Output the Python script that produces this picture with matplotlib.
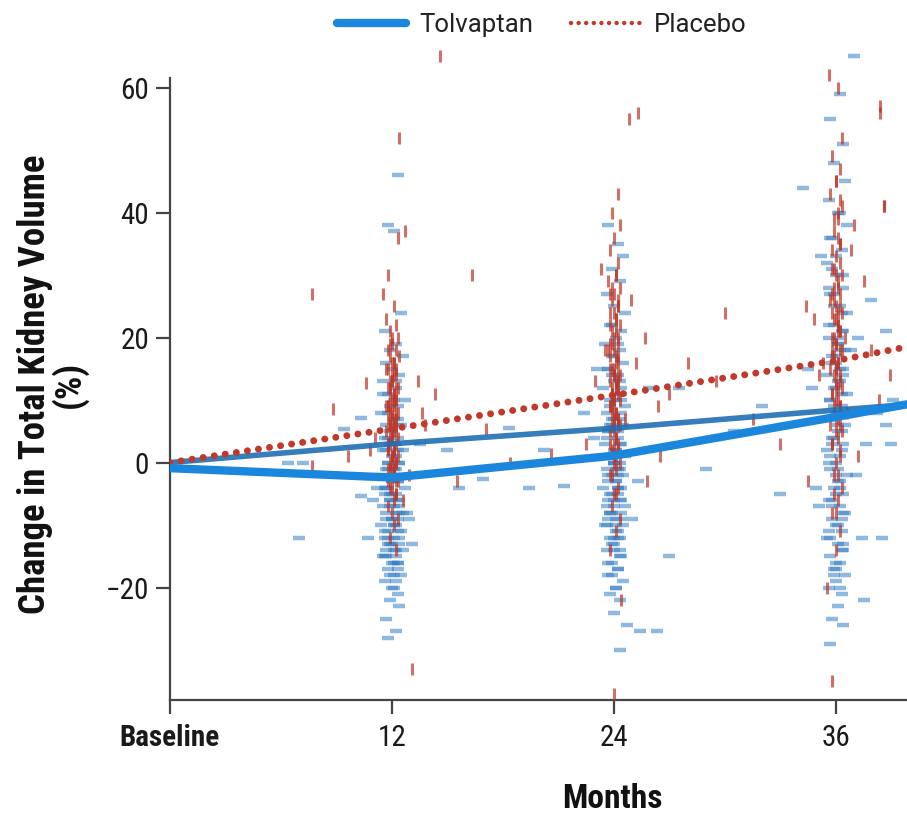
import numpy as np
import matplotlib
matplotlib.use("Agg")
import matplotlib.pyplot as plt
from matplotlib.lines import Line2D

plt.rcParams['font.family'] = ['Roboto Condensed', 'Lato', 'DejaVu Sans']

# visit months and group means
line_months = [0, 12, 24, 36, 40]
tolvaptan_mean = [-0.9, -2.4, 1.1, 7.3, 9.4]
tolvaptan_trend = [0.0, 3.0, 5.5, 8.4, 9.3]
placebo_mean = [0.0, 5.4, 10.8, 16.3, 18.6]

# individual patients, month 12
b12_y = [46, 38, 37, 24, 21, 19, 18, 17, 16, 15, 14, 13, 12, 11, 10, 9, 9, 8, 7, 6,
         6, 5, 4, 4, 3, 2, 2, 1, 0, 0, -1, -1, -2, -2, -3, -3, -4, -4, -5, -5,
         -6, -6, -7, -7, -8, -8, -9, -9, -10, -10, -11, -11, -12, -12, -13, -13, -14, -14, -15, -15,
         -16, -16, -17, -18, -19, -20, -21, -22, -23, -25, -27, -28, -2, -6, -9, -12, 3, -4, -13, -8,
         10, 8, 6, 5, 3, 2, 1, 0, -1, -2, -3, -4, -5, -6, -7, -8, -9, -10, -11, -12,
         -13, -14, -15, -16, -17, -18, -19, -20, -4, -7, -10, -13, -16, -1, -5, -9, -12, -15, -18, 4,
         7, -3, -6, -8, -11, -14, 2, 0, -2, 13]
b12_dx = [0.3, -0.2, 0.1, 0.5, -0.4, 0.2, -0.1, 0.6, -0.3, 0.0,
          0.4, -0.5, 0.2, -0.2, 0.7, -0.1, 0.3, -0.6, 0.1, -0.3,
          0.5, 0.0, -0.4, 0.3, -0.1, 0.6, -0.5, 0.2, -0.2, 0.4,
          -0.3, 0.1, 0.5, -0.6, 0.0, 0.3, -0.2, 0.7, -0.4, 0.2,
          -0.1, 0.4, -0.5, 0.1, 0.6, -0.3, 0.0, 0.3, -0.6, 0.2,
          -0.2, 0.5, -0.4, 0.1, 0.4, -0.1, 0.6, -0.3, 0.2, -0.5,
          0.0, 0.3, -0.2, 0.5, -0.4, 0.1, 0.3, -0.1, 0.4, -0.3,
          0.2, -0.2, 1.2, -1.0, 0.9, -1.3, 1.5, -0.8, 1.1, 0.8,
          0.1, -0.2, 0.3, -0.1, 0.2, -0.3, 0.0, 0.4, -0.2, 0.1,
          0.3, -0.4, 0.0, 0.2, -0.1, 0.4, -0.3, 0.1, 0.3, -0.2,
          0.0, 0.2, -0.4, 0.1, 0.3, -0.1, 0.2, 0.0, -0.3, 0.4,
          0.1, -0.2, 0.3, 0.2, -0.1, 0.0, 0.4, -0.3, 0.1, -0.2,
          0.3, 0.0, -0.1, 0.2, -0.4, 0.1, 0.3, -0.2, 0.0, 0.2]
r12_y = [52, 37, 36, 30, 25, 23, 22, 21, 20, 19, 18, 17, 16, 15, 15, 14, 13, 12, 12, 11,
         10, 10, 9, 9, 8, 8, 7, 7, 6, 6, 5, 5, 4, 4, 3, 3, 2, 2, 1, 1,
         0, 0, -1, -1, -2, -3, -4, -5, -6, -7, -8, -9, -10, -12, -14, -33, 13, 6, 2, -2,
         11, 4, 8, 27, -6,
         20, 18, 17, 16, 15, 14, 13, 12, 11, 10, 9, 8, 7, 6, 5, 4, 3, 2, 1, 0,
         -1, -2, -3, -4, -5, 14, 11, 8, 5, 2, -1, 16, 12, 9, 6, 3, 0, 10, 7, 4,
         13, 9, 1, -3, 19]
r12_dx = [0.4, 0.7, 0.3, -0.2, 0.1, -0.3, 0.2, -0.1, 0.3, 0.0,
          -0.2, 0.4, 0.1, -0.3, 0.2, 0.0, -0.1, 0.3, -0.2, 0.1,
          0.0, 0.2, -0.3, 0.1, -0.1, 0.3, 0.0, -0.2, 0.2, -0.1,
          0.1, -0.3, 0.3, 0.0, -0.1, 0.2, -0.2, 0.1, 0.0, 0.3,
          -0.1, 0.2, 0.1, -0.2, 0.0, 0.3, -0.1, 0.2, 0.1, -0.2,
          0.0, 0.3, 0.1, -0.1, 0.2, 1.1, 1.4, 1.8, -1.2, 0.9,
          2.3, -0.9, 1.6, -0.5, 0.6,
          0.0, 0.2, -0.1, 0.1, -0.2, 0.2, 0.0, -0.1, 0.1, 0.2,
          -0.2, 0.0, 0.1, -0.1, 0.2, 0.0, -0.2, 0.1, 0.0, 0.2,
          -0.1, 0.1, -0.2, 0.0, 0.2, 0.1, -0.1, 0.2, 0.0, -0.2,
          0.1, 0.0, 0.2, -0.1, 0.1, -0.2, 0.0, 0.1, 0.2, -0.1,
          0.0, -0.2, 0.1, 0.2, -0.1]

# month 24
b24_y = [38, 35, 33, 31, 29, 27, 25, 24, 22, 21, 20, 19, 18, 17, 16, 15, 14, 13, 12, 11,
         10, 10, 9, 8, 7, 7, 6, 5, 5, 4, 3, 3, 2, 1, 1, 0, 0, -1, -1, -2,
         -2, -3, -3, -4, -4, -5, -5, -6, -6, -7, -7, -8, -8, -9, -9, -10, -10, -11, -12, -12,
         -13, -14, -15, -16, -17, -18, -19, -20, -21, -22, -24, -26, -27, -30, 4, -3, 8, 12, -9, 15,
         22, 19, 17, 15, 13, 11, 9, 8, 7, 6, 5, 4, 3, 2, 1, 0, -1, -2, -3, -4,
         -5, -6, -7, -8, -9, -10, -11, -12, -13, -14, -15, -16, -17, -18, -20, 10, 6, 2, -2, -6,
         -10, -14, 14, 0, -4, -8, 12, 5, -1, -12]
b24_dx = [-0.3, 0.2, 0.5, -0.1, 0.3, -0.4, 0.0, 0.6, -0.2, 0.4,
          0.1, -0.5, 0.3, -0.1, 0.5, -0.3, 0.2, 0.0, -0.6, 0.4,
          -0.2, 0.1, 0.6, -0.4, 0.3, -0.1, 0.5, 0.0, -0.3, 0.2,
          0.4, -0.5, 0.1, -0.2, 0.6, 0.0, 0.3, -0.4, 0.2, -0.1,
          0.5, -0.3, 0.1, 0.4, -0.6, 0.2, -0.2, 0.3, 0.0, -0.4,
          0.6, -0.1, 0.4, -0.3, 0.1, 0.5, -0.5, 0.2, -0.2, 0.3,
          0.0, -0.4, 0.4, -0.1, 0.2, -0.3, 0.5, 0.1, -0.2, 0.3,
          0.0, 0.7, 1.4, 0.3, -1.1, 1.3, -1.6, 1.9, 1.0, -0.9,
          -0.1, 0.2, 0.0, -0.3, 0.3, 0.1, -0.2, 0.4, 0.0, -0.1,
          0.2, -0.4, 0.3, 0.1, -0.2, 0.0, 0.3, -0.3, 0.1, 0.2,
          -0.1, 0.4, 0.0, -0.2, 0.3, -0.4, 0.1, 0.2, -0.1, 0.0,
          0.3, -0.3, 0.2, -0.1, 0.1, 0.4, -0.2, 0.0, 0.2, -0.3,
          0.1, 0.3, -0.1, 0.0, 0.2, -0.2, 0.4, -0.3, 0.1, 0.0]
r24_y = [56, 55, 43, 40, 38, 36, 34, 32, 30, 29, 28, 27, 26, 25, 24, 23, 22, 21, 20, 19,
         18, 17, 16, 15, 14, 14, 13, 12, 12, 11, 10, 10, 9, 8, 8, 7, 6, 6, 5, 4,
         3, 2, 1, 0, -1, -2, -4, -5, -7, -9, -11, -14, -22, -37, 20, 13, 9, 16, 3, 26,
         11, 31, -3, 7, 18,
         30, 28, 26, 24, 22, 21, 20, 19, 18, 17, 16, 15, 14, 13, 12, 11, 10, 9, 8, 7,
         6, 5, 4, 3, 2, 0, -2, -5, 25, 19, 15, 12, 9, 6, 3, 23, 17, 13, 10, 7,
         1, 14, 11, 8, 27]
r24_dx = [1.3, 0.8, 0.2, -0.1, 0.3, 0.0, -0.2, 0.2, 0.1, -0.3,
          0.3, 0.0, -0.1, 0.2, -0.2, 0.1, 0.3, -0.1, 0.0, 0.2,
          -0.3, 0.1, 0.2, -0.1, 0.0, 0.3, -0.2, 0.1, 0.2, -0.1,
          0.0, 0.3, -0.2, 0.1, -0.1, 0.2, 0.0, 0.3, -0.2, 0.1,
          0.2, -0.1, 0.0, 0.3, 0.1, -0.2, 0.2, 0.0, -0.1, 0.3,
          0.1, -0.2, 0.4, 0.0, 1.7, -1.0, 2.4, 1.2, -1.5, 0.9,
          3.0, -0.7, 1.8, 0.6, -0.5,
          0.1, -0.1, 0.2, 0.0, -0.2, 0.1, 0.2, -0.1, 0.0, 0.2,
          0.1, -0.2, 0.0, 0.1, -0.1, 0.2, 0.0, -0.2, 0.1, 0.2,
          -0.1, 0.0, 0.1, -0.2, 0.2, 0.0, -0.1, 0.1, 0.2, -0.2,
          0.0, 0.1, -0.1, 0.2, 0.0, 0.1, -0.2, 0.2, -0.1, 0.0,
          0.1, 0.2, -0.1, 0.0, -0.2]

# month 36
b36_y = [65, 59, 55, 51, 48, 45, 42, 40, 38, 36, 34, 32, 30, 28, 27, 25, 24, 22, 21, 20,
         19, 18, 17, 16, 15, 14, 13, 12, 11, 10, 9, 8, 7, 6, 5, 4, 3, 2, 1, 0,
         -1, -2, -3, -4, -5, -6, -7, -8, -9, -10, -11, -12, -13, -14, -15, -16, -17, -18, -19, -20,
         -21, -23, -25, -26, -29, 20, 12, 3, -7, 26, 15, -2, 8, 33, -12, 6, 44, 18, 10, -4,
         40, 36, 33, 30, 27, 24, 22, 20, 18, 16, 14, 12, 10, 8, 6, 4, 2, 0, -2, -4,
         -6, -8, -10, -12, -14, -16, -18, -20, 28, 19, 11, 3, -5, -13, 25, 15, 7, -1, -9, -17,
         31, 21, 9, -3, -11, 17, 5, -7, 13, 1]
b36_dx = [1.0, 0.2, -0.3, 0.4, -0.1, 0.5, -0.4, 0.1, 0.6, -0.2,
          0.3, -0.5, 0.0, 0.4, -0.3, 0.2, 0.6, -0.1, 0.3, -0.4,
          0.1, 0.5, -0.2, 0.0, 0.4, -0.5, 0.2, -0.1, 0.6, -0.3,
          0.3, 0.0, -0.4, 0.5, 0.1, -0.2, 0.4, -0.5, 0.2, 0.0,
          -0.3, 0.6, 0.1, -0.1, 0.4, -0.4, 0.2, 0.5, -0.2, 0.0,
          0.3, -0.5, 0.1, 0.4, -0.3, 0.2, -0.1, 0.5, 0.0, -0.4,
          0.3, 0.1, -0.2, 0.4, -0.3, 1.2, -1.3, 1.6, -0.9, 1.9,
          -1.5, 1.1, 2.2, -0.8, 1.4, 2.7, -1.8, 0.8, 3.1, -1.1,
          0.2, -0.3, 0.0, 0.4, -0.1, 0.3, -0.4, 0.1, 0.2, -0.2,
          0.4, 0.0, -0.3, 0.2, 0.1, -0.1, 0.3, -0.4, 0.0, 0.2,
          -0.2, 0.4, 0.1, -0.3, 0.3, 0.0, -0.1, 0.2, -0.4, 0.1,
          0.3, -0.2, 0.0, 0.4, -0.1, 0.2, -0.3, 0.1, 0.3, 0.0,
          -0.2, 0.4, -0.1, 0.2, -0.4, 0.0, 0.3, -0.2, 0.1, -0.3]
r36_y = [62, 60, 56, 52, 49, 47, 45, 43, 41, 39, 37, 35, 33, 31, 30, 29, 28, 27, 26, 25,
         24, 23, 22, 21, 20, 19, 18, 17, 16, 15, 14, 13, 12, 11, 10, 9, 8, 7, 6, 5,
         4, 3, 2, 0, -2, -4, -6, -8, -11, -14, -20, -35, 41, 29, 23, 18, 14, 34, 10, 25,
         1, 38, 16, 8, 20,
         45, 42, 39, 36, 34, 32, 30, 28, 26, 25, 24, 23, 22, 21, 20, 19, 18, 17, 16, 15,
         14, 13, 12, 11, 10, 9, 8, 7, 5, 3, 1, -2, -5, -8, 35, 27, 21, 15, 9, 31,
         24, 18, 12, 6, 40]
r36_dx = [-0.4, 0.1, 2.4, 0.3, -0.2, 0.2, 0.0, -0.3, 0.3, 0.1,
          -0.1, 0.2, 0.0, -0.2, 0.3, 0.1, -0.1, 0.2, -0.3, 0.0,
          0.3, -0.1, 0.1, 0.2, -0.2, 0.0, 0.3, -0.1, 0.1, -0.3,
          0.2, 0.0, 0.3, -0.2, 0.1, -0.1, 0.2, 0.0, -0.3, 0.3,
          0.1, -0.2, 0.2, 0.0, -0.1, 0.3, 0.1, -0.2, 0.2, 0.0,
          -0.5, -0.2, 2.6, 1.5, -1.2, 1.9, -0.9, 0.8, 2.3, -1.6,
          1.2, 1.0, -0.7, 0.6, 0.5,
          0.0, 0.2, -0.1, 0.1, -0.2, 0.2, 0.0, 0.1, -0.1, 0.2,
          -0.2, 0.0, 0.1, 0.2, -0.1, 0.0, 0.2, -0.2, 0.1, 0.0,
          -0.1, 0.2, 0.1, -0.2, 0.0, 0.2, -0.1, 0.1, 0.0, -0.2,
          0.2, 0.1, -0.1, 0.0, 0.2, -0.2, 0.1, 0.0, 0.2, -0.1,
          0.1, -0.2, 0.0, 0.2, 0.1]

# unscheduled measurements between visits
blue_extra_x = [6.4, 7.2, 7.0, 9.4, 10.3, 10.3, 11.5, 15.0, 15.6, 16.9, 18.3, 19.4, 20.2, 21.3,
                27.5, 29.0, 30.5, 32.0, 33.0, 27.0, 26.3, 37.5, 38.5, 38.7, 39.0]
blue_extra_y = [0, 0, -12, 5.3, 7.2, -5.4, 11, 2, -4, -2.7, 5.6, -4, 2, -3.7,
                12, -1, 5, 9, -5, -15, -27, -22, -12, 21, 3]
red_extra_x = [7.7, 7.7, 8.8, 9.6, 10.6, 14.6, 15.5, 16.3, 17.1, 18.4, 20.6,
               26.5, 28.0, 29.5, 30.0, 31.5, 33.0, 34.5, 38.4, 38.6, 38.9]
red_extra_y = [27, -0.6, 8.6, 1, 12.8, 65, -3, 30, 5.3, 0, 1.3,
               1, 16, 13, 24, 7, 3, -3, 57, 41, 14]

blue_pts = '#3580c6'
red_pts = '#bd3526'
blue_line = '#1a86dc'
blue_trend = '#1f6fb4'
red_line = '#c0392b'

fig = plt.figure(figsize=(9.07, 8.14), dpi=100)
ax = fig.add_axes([0.1874, 0.140, 0.8126, 0.7985])

blue_style = dict(ls='none', marker='_', ms=8, mew=3.2, color=blue_pts, alpha=0.55, zorder=3)
red_style = dict(ls='none', marker='|', ms=8, mew=2.2, color=red_pts, alpha=0.7, zorder=3)

groups = [(12, b12_dx, b12_y, r12_dx, r12_y),
          (24, b24_dx, b24_y, r24_dx, r24_y),
          (36, b36_dx, b36_y, r36_dx, r36_y)]
for m, bdx, by, rdx, ry in groups:
    ax.plot(m + np.array(bdx), by, **blue_style)
    ax.plot(m + np.array(rdx), ry, **red_style)
ax.plot(blue_extra_x, blue_extra_y, **blue_style)
ax.plot(red_extra_x, red_extra_y, **red_style)

ax.plot(line_months, tolvaptan_trend, color=blue_trend, lw=4, alpha=0.9,
        solid_capstyle='butt', zorder=4)
ax.plot(line_months, placebo_mean, color=red_line, lw=5,
        linestyle=(0, (0.01, 1.6)), dash_capstyle='round', zorder=5)
ax.plot(line_months, tolvaptan_mean, color=blue_line, lw=6,
        solid_capstyle='butt', zorder=6)

ax.set_xlim(0, 39.84)
ax.set_ylim(-38, 66)
for s in ['top', 'right']:
    ax.spines[s].set_visible(False)
ax.spines['left'].set_bounds(-38, 61.5)
for s in ['left', 'bottom']:
    ax.spines[s].set_color('#444444')
    ax.spines[s].set_linewidth(1.6)

ax.set_yticks([-20, 0, 20, 40, 60])
ax.set_yticklabels(['\u221220', '0', '20', '40', '60'])
ax.set_xticks([0, 12, 24, 36])
ax.set_xticklabels(['Baseline', '12', '24', '36'])
ax.get_xticklabels()[0].set_fontweight('bold')
ax.tick_params(axis='both', direction='out', length=10, width=1.6,
               color='#444444', labelsize=21, labelcolor='#1a1a1a')
ax.tick_params(axis='x', pad=7)
ax.tick_params(axis='y', pad=5)

ax.set_xlabel('Months', fontsize=24, fontweight='bold', color='#111111')
ax.xaxis.set_label_coords(0.6, -0.128)
ax.set_ylabel('Change in Total Kidney Volume\n(%)', fontsize=26.5,
              fontweight='bold', color='#111111', linespacing=0.9)
ax.yaxis.set_label_coords(-0.112, 0.485)

handles = [Line2D([], [], color=blue_line, lw=6, solid_capstyle='round'),
           Line2D([], [], color=red_line, lw=3.2, linestyle=(0, (0.01, 1.7)),
                  dash_capstyle='round')]
fig.legend(handles, ['Tolvaptan', 'Placebo'], loc='center', ncol=2,
           bbox_to_anchor=(0.597, 0.969), frameon=False,
           prop={'family': 'Roboto', 'size': 18.5},
           handlelength=2.7, columnspacing=1.5, handletextpad=0.5,
           labelcolor='#222222')

fig.savefig('out.png', dpi=100)
